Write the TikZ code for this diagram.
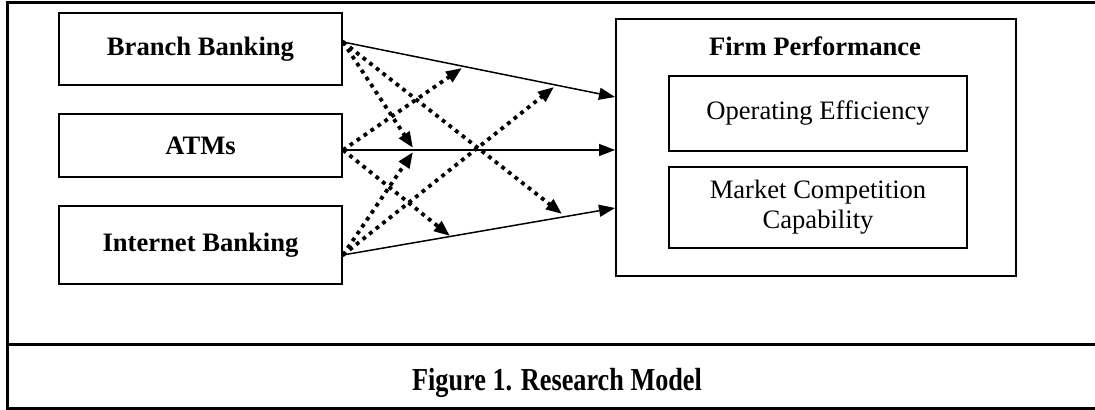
\documentclass[tikz,border=0pt]{standalone}
\usepackage{fontspec}
\setmainfont{Liberation Serif}
\usetikzlibrary{arrows.meta}
\tikzset{
	inbox/.style={draw, line width=1pt, font=\fontsize{13.3}{15}\selectfont\bfseries, align=center, inner sep=0pt, minimum width=141.5pt},
	subbox/.style={draw, line width=1pt, font=\fontsize{13.3}{15}\selectfont, align=center, inner sep=0pt, minimum width=149pt},
	solidarr/.style={line width=0.75pt, -{Triangle[length=8pt,width=6pt]}},
	dotarr/.style={line width=1.9pt, dash pattern=on 1.9pt off 2.3pt, -{Triangle[length=8pt,width=6pt]}},
	startdot/.style={fill=black, inner sep=0pt, minimum size=2pt, circle}
}

\begin{document}
\begin{tikzpicture}[x=0.5pt,y=-0.5pt]
				%%%%% START %%%%%
				\def\w{1095}
				\def\h{410}
				\def\bx{200.5}
				\def\lw{1.5pt}
				\useasboundingbox (0,0) rectangle (\w,\h);

				% frame
				\draw[line width=\lw] (\w,3) -- (7,3) -- (7,408.5) -- (\w,408.5);
				\draw[line width=\lw] (7,345) -- (\w,345);
				\node (caption) at (557,383) {\scalebox{0.82}[1]{\fontsize{16}{18}\selectfont\bfseries Figure 1. Research Model}};

				% left boxes
				\node[inbox, minimum height=36pt] (branch) at (\bx,49) {Branch Banking};
				\node[inbox, minimum height=31.5pt] (atms) at (\bx,145.5) {ATMs};
				\node[inbox, minimum height=39pt] (internet) at (\bx,245) {Internet Banking};

				% right box
				\node[draw, line width=1pt, minimum width=200pt, minimum height=128.5pt] (firm) at (816,147.5) {};
				\node[font=\fontsize{13.3}{15}\selectfont\bfseries] (firmtitle) at (815,46) {Firm Performance};
				\node[subbox, minimum height=37.5pt] (eff) at (818,113.5) {Operating Efficiency};
				\node[subbox, minimum height=40.5pt] (mkt) at (818,207.5) {Market Competition\\Capability};

				% start points
				\coordinate (bs) at ([yshift=3.5pt]branch.east);
				\coordinate (as) at ([yshift=-2.25pt]atms.east);
				\coordinate (is) at ([yshift=-5pt]internet.east);

				% dotted ends
				\coordinate (ba) at (413,148);
				\coordinate (bi) at (562,214);
				\coordinate (ab) at (462,68);
				\coordinate (ai) at (450,236);
				\coordinate (ia) at (413,152);
				\coordinate (ib) at (554,87);

				\draw[dotarr] (bs) -- (ba);
				\draw[dotarr] (bs) -- (bi);
				\draw[dotarr] (as) -- (ab);
				\draw[dotarr] (as) -- (ai);
				\draw[dotarr] (is) -- (ia);
				\draw[dotarr] (is) -- (ib);

				\draw[solidarr] (bs) -- ([yshift=25.25pt]firm.west);
				\draw[solidarr] (as) -- ([yshift=-1.25pt]firm.west);
				\draw[solidarr] (is) -- ([yshift=-30.25pt]firm.west);

				\node[startdot] at (bs) {};
				\node[startdot] at (as) {};
				\node[startdot] at (is) {};
				%%%%% START %%%%%
\end{tikzpicture}
\end{document}
